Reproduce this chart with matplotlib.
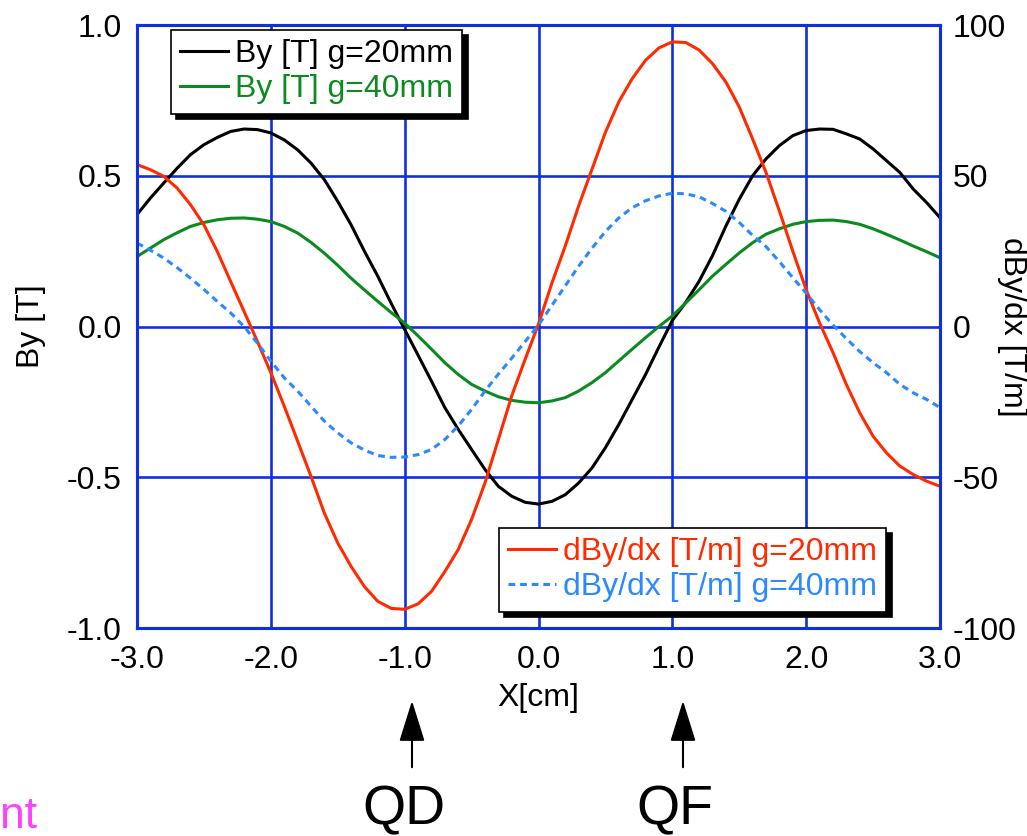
import matplotlib
matplotlib.use("Agg")
import matplotlib.pyplot as plt

plt.rcParams['font.family'] = ['Liberation Sans', 'DejaVu Sans']
plt.rcParams['axes.unicode_minus'] = False

# positions along the magnet [cm], every 0.1 cm
x = [-3.0, -2.9, -2.8, -2.7, -2.6, -2.5, -2.4, -2.3, -2.2, -2.1,
     -2.0, -1.9, -1.8, -1.7, -1.6, -1.5, -1.4, -1.3, -1.2, -1.1,
     -1.0, -0.9, -0.8, -0.7, -0.6, -0.5, -0.4, -0.3, -0.2, -0.1,
     0.0, 0.1, 0.2, 0.3, 0.4, 0.5, 0.6, 0.7, 0.8, 0.9,
     1.0, 1.1, 1.2, 1.3, 1.4, 1.5, 1.6, 1.7, 1.8, 1.9,
     2.0, 2.1, 2.2, 2.3, 2.4, 2.5, 2.6, 2.7, 2.8, 2.9, 3.0]

# By [T]
by_20 = [0.371, 0.426, 0.476, 0.525, 0.570, 0.603, 0.627, 0.647, 0.655, 0.653,
         0.642, 0.619, 0.586, 0.542, 0.487, 0.415, 0.337, 0.249, 0.166, 0.076,
         -0.01, -0.095, -0.181, -0.269, -0.341, -0.408, -0.474, -0.530, -0.563, -0.583,
         -0.589, -0.580, -0.558, -0.519, -0.469, -0.402, -0.325, -0.242, -0.159, -0.068,
         0.02, 0.08, 0.15, 0.235, 0.333, 0.422, 0.50, 0.556, 0.60, 0.633,
         0.650, 0.655, 0.654, 0.639, 0.622, 0.589, 0.550, 0.511, 0.456, 0.411, 0.361]
by_40 = [0.232, 0.260, 0.288, 0.311, 0.332, 0.345, 0.354, 0.359, 0.360, 0.356,
         0.348, 0.332, 0.310, 0.279, 0.243, 0.203, 0.160, 0.121, 0.083, 0.046,
         0.011, -0.031, -0.075, -0.120, -0.159, -0.192, -0.214, -0.233, -0.245, -0.251,
         -0.253, -0.247, -0.236, -0.214, -0.186, -0.153, -0.114, -0.075, -0.037, 0.0,
         0.035, 0.078, 0.122, 0.167, 0.206, 0.244, 0.278, 0.306, 0.324, 0.339,
         0.348, 0.352, 0.353, 0.348, 0.339, 0.324, 0.306, 0.287, 0.267, 0.248, 0.228]

# dBy/dx [T/m]
dby_20 = [53.7, 52.0, 49.8, 45.9, 40.4, 33.7, 24.9, 14.9, 5.0, -5.0,
          -15.3, -26.4, -38.0, -49.7, -61.9, -71.8, -79.6, -86.3, -91.2, -93.5,
          -93.8, -92.0, -87.9, -81.3, -74.0, -64.0, -51.9, -37.5, -23.0, -10.9,
          0.8, 14.4, 26.7, 40.0, 52.2, 64.4, 74.5, 82.2, 88.3, 92.4,
          94.4, 94.2, 91.7, 87.2, 81.1, 72.8, 62.2, 51.1, 38.3, 25.0,
          12.2, 1.2, -8.6, -19.2, -28.6, -36.4, -41.9, -46.3, -49.1, -51.3, -53.0]
dby_40 = [27.7, 25.3, 22.7, 19.5, 16.0, 12.3, 8.3, 4.5, 0.0, -5.5,
          -11.5, -17.0, -21.4, -26.4, -31.4, -35.3, -38.6, -41.0, -42.8, -43.4,
          -43.3, -42.5, -40.8, -37.5, -33.0, -27.5, -21.4, -15.8, -10.5, -5.0,
          0.5, 7.0, 13.5, 20.0, 26.0, 31.5, 36.0, 39.4, 41.7, 43.3,
          44.2, 44.0, 43.0, 40.8, 38.2, 34.5, 30.2, 26.5, 21.5, 16.2,
          11.1, 5.6, 0.5, -4.0, -8.3, -12.0, -15.3, -19.2, -22.0, -24.2, -26.9]

left_ticks = [-1.0, -0.5, 0.0, 0.5, 1.0]
right_ticks = [-100, -50, 0, 50, 100]
x_ticks = [-3.0, -2.0, -1.0, 0.0, 1.0, 2.0, 3.0]

W, H = 1027, 836
grid_blue = '#1030e0'
fs = 23

fig = plt.figure(figsize=(W / 100, H / 100), dpi=100)
ax = fig.add_axes([137 / W, 1 - 628 / H, (940 - 137) / W, (628 - 25) / H])
ax2 = ax.twinx()

l1, = ax.plot(x, by_20, color='black', lw=2.2, label='By [T] g=20mm')
l2, = ax.plot(x, by_40, color='#0b8a1f', lw=2.2, label='By [T] g=40mm')
l3, = ax2.plot(x, dby_20, color='#ff2a00', lw=2.2, label='dBy/dx [T/m] g=20mm')
l4, = ax2.plot(x, dby_40, color='#2b88ff', lw=2.2, ls=(0, (2.2, 1.6)),
               label='dBy/dx [T/m] g=40mm')

ax.set_xlim(-3, 3)
ax.set_ylim(-1, 1)
ax2.set_ylim(-100, 100)
ax.set_xticks(x_ticks)
ax.set_xticklabels(['%.1f' % v for v in x_ticks])
ax.set_yticks(left_ticks)
ax.set_yticklabels(['%.1f' % v for v in left_ticks])
ax2.set_yticks(right_ticks)
ax2.set_yticklabels([str(v) for v in right_ticks])

ax.grid(True, color=grid_blue, lw=1.9)
ax.set_axisbelow(True)
for a in (ax, ax2):
    for s in a.spines.values():
        s.set_color(grid_blue)
        s.set_linewidth(2.2)
ax.tick_params(axis='both', length=0, labelsize=fs)
ax.tick_params(axis='y', pad=11)
ax.tick_params(axis='x', pad=12)
ax2.tick_params(axis='y', length=0, labelsize=fs, pad=9)

ax.set_xlabel('X[cm]', fontsize=fs, labelpad=6)
ax.set_ylabel('By [T]', fontsize=fs, va='center')
ax.yaxis.set_label_coords(-106 / 803, 0.5)
ax2.set_ylabel('dBy/dx [T/m]', fontsize=fs, rotation=-90, va='center')
ax2.yaxis.set_label_coords(1 + 72 / 803, 0.5)

shadow = {'color': 'black', 'alpha': 1.0, 'ox': 4, 'oy': -4}
leg_kw = dict(fontsize=fs, labelcolor='linecolor', fancybox=False,
              shadow=shadow, framealpha=1, edgecolor='black',
              handlelength=1.5, handletextpad=0.2, borderpad=0.3,
              labelspacing=0.15, borderaxespad=0)
leg1 = ax2.legend(handles=[l1, l2], loc='upper left',
                  bbox_to_anchor=(0.042, 0.992), **leg_kw)
leg1.get_frame().set_linewidth(1.2)
ax2.add_artist(leg1)
leg2 = ax2.legend(handles=[l3, l4], loc='lower right',
                  bbox_to_anchor=(0.933, 0.027), **leg_kw)
leg2.get_frame().set_linewidth(1.2)

# QD / QF markers under the axis
for xpix, name in [(412, 'QD'), (683, 'QF')]:
    fig.patches.append(matplotlib.patches.FancyArrowPatch(
        (xpix / W, 1 - 770 / H), (xpix / W, 1 - 698 / H),
        transform=fig.transFigure, arrowstyle='-|>,head_length=1.6,head_width=0.5',
        mutation_scale=16, color='black', lw=1.5))
    fig.text((xpix - 8) / W, 1 - 810 / H, name, fontsize=40, ha='center', va='center')

fig.text(0, 1 - 816 / H, 'nt', fontsize=32, color='#ff40ff', ha='left', va='center')

fig.savefig('out.png', dpi=100)
